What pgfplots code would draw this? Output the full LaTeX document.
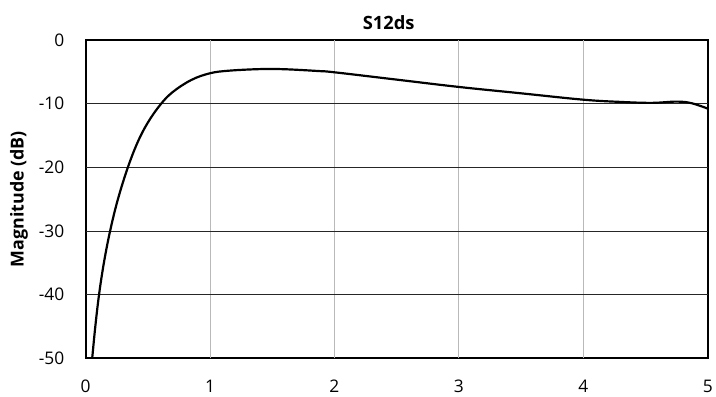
\documentclass[border=0pt]{standalone}
\usepackage{fontspec}
\setmainfont{Open Sans}
\usepackage{pgfplots}
\pgfplotsset{compat=1.18}

\begin{document}
\begin{tikzpicture}
\begin{axis}[
  scale only axis,
  width=625bp, height=320bp,
  xmin=0, xmax=5, ymin=-50, ymax=0,
  xtick={0,1,2,3,4,5}, ytick={-50,-40,-30,-20,-10,0},
  major tick length=0pt,
  /pgf/number format/assume math mode=true,
  ticklabel style={font=\fontsize{17.5}{20}\selectfont},
  xticklabel style={yshift=-18bp},
  yticklabel style={xshift=-18bp},
  axis line style={black, line width=1.8bp},
  extra x ticks={1,2,3,4},
  extra x tick labels={},
  extra x tick style={grid=major, major grid style={gray!55, line width=0.9bp}},
  extra y ticks={-40,-30,-20,-10},
  extra y tick labels={},
  extra y tick style={grid=major, major grid style={black!85, line width=0.8bp}},
  title={\bfseries S12ds},
  title style={font=\fontsize{18.5}{21}\selectfont, xshift=-8bp, yshift=1bp},
  ylabel={\bfseries Magnitude (dB)},
  ylabel style={font=\fontsize{18}{21}\selectfont, yshift=4bp},
  clip=false,
]
\addplot[black, line width=2.2bp, smooth, tension=0.6] coordinates {
  (0.053,-50) (0.078,-45) (0.108,-40) (0.147,-35) (0.197,-30)
  (0.26,-25) (0.34,-20) (0.42,-16) (0.5,-13) (0.6,-10.2)
  (0.7,-8.2) (0.85,-6.3) (1.0,-5.25) (1.15,-4.85) (1.4,-4.6) (1.6,-4.62)
  (1.87,-4.9) (2.0,-5.1) (2.5,-6.25) (3.0,-7.4) (3.5,-8.4)
  (4.0,-9.4) (4.3,-9.75) (4.55,-9.9) (4.75,-9.7) (4.87,-9.95) (5.0,-10.8)
};
\path (rel axis cs:-0.1376,-0.11875) rectangle (rel axis cs:1.008,1.125);
\end{axis}
\end{tikzpicture}
\end{document}
